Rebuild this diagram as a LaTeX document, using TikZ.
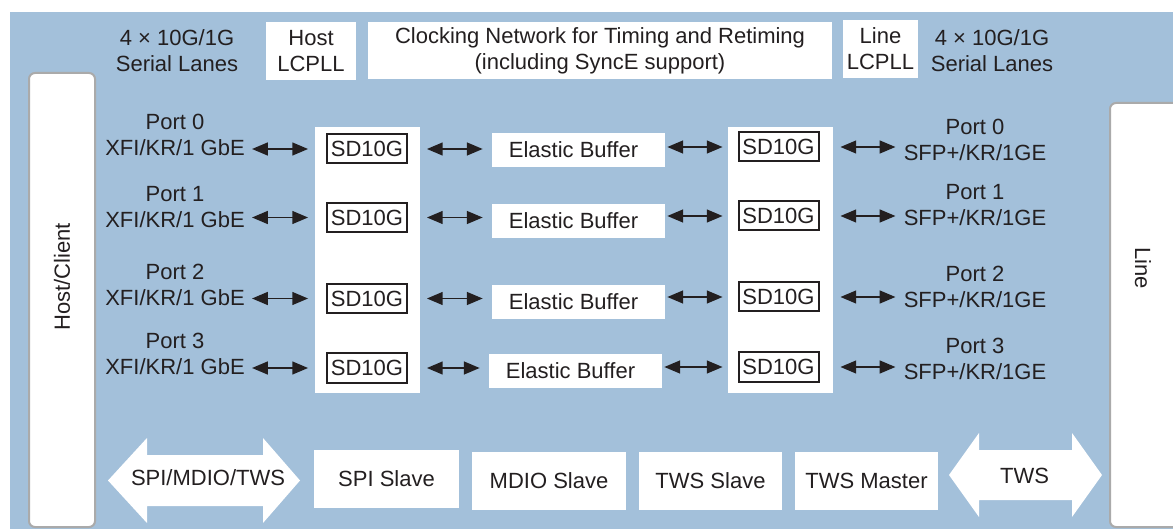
\documentclass[tikz,border=0pt]{standalone}
\usepackage{fontspec}
\setmainfont{Liberation Sans}
\usetikzlibrary{arrows, positioning, shapes}

\definecolor{bgblue}{RGB}{163,192,218}
\definecolor{ink}{RGB}{35,31,32}
\definecolor{rim}{RGB}{170,170,170}

\begin{document}
\begin{tikzpicture}[x=0.5pt, y=-0.5pt, >=triangle 45,
    txt/.style={font=\fontsize{11}{13}\selectfont, text=ink, align=center, inner sep=0pt},
    block/.style={txt, fill=white, minimum height=29pt},
    serdes/.style={txt, draw=ink, line width=1pt, fill=white, minimum width=40pt, minimum height=14.5pt},
    buffer/.style={block, minimum width=86.5pt, minimum height=17pt},
    column/.style={fill=white, minimum width=52.5pt, minimum height=133pt, inner sep=0pt},
    panel/.style={draw=rim, line width=1pt, fill=white, rounded corners=3pt},
    bigarrow/.style={fill=white},
    link/.style={<->, draw=ink, line width=0.8pt}]

   % Background
      \clip (0,0) rectangle (1173,529);
      \fill[bgblue] (10,12) rectangle (1173,529);

   % Side panels
      \draw[panel] (29,73) rectangle (95,527);
      \draw[panel] (1110,103) rectangle (1200,527);
      \node[txt, rotate=90]  (host) at (62,277)   {Host/Client};
      \node[txt, rotate=-90] (line) at (1143,268) {Line};

   % Top row
      \node[txt]                          (llanes) at (177,50.5) {4 × 10G/1G\\Serial Lanes};
      \node[block, minimum width=45pt]    (hpll)   at (311,51)   {Host\\LCPLL};
      \node[block, minimum width=232pt, minimum height=28.5pt]
                                          (clk)    at (600,50.5) {Clocking Network for Timing and Retiming\\(including SyncE support)};
      \node[block, minimum width=37.5pt]  (lpll)   at (880.5,49) {Line\\LCPLL};
      \node[txt]                          (rlanes) at (992,50.5) {4 × 10G/1G\\Serial Lanes};

   % Columns
      \node[column] (lcol) at (367.5,260) {};
      \node[column] (rcol) at (780,260)   {};

   % Nodes
      \node[txt]    (lp0) at (175,135)     {Port 0\\XFI/KR/1 GbE};
      \node[txt]    (lp1) at (175,207)     {Port 1\\XFI/KR/1 GbE};
      \node[txt]    (lp2) at (175,285)     {Port 2\\XFI/KR/1 GbE};
      \node[txt]    (lp3) at (175,354)     {Port 3\\XFI/KR/1 GbE};

      \node[serdes] (ls0) at (367,149)     {SD10G};
      \node[serdes] (ls1) at (367,217.5)   {SD10G};
      \node[serdes] (ls2) at (367,298.5)   {SD10G};
      \node[serdes] (ls3) at (367,368)     {SD10G};

      \node[buffer] (eb0) at (578.5,150)   {Elastic Buffer\hspace{5pt}};
      \node[buffer] (eb1) at (578.5,221)   {Elastic Buffer\hspace{5pt}};
      \node[buffer] (eb2) at (578.5,302)   {Elastic Buffer\hspace{5pt}};
      \node[buffer] (eb3) at (575.5,371)   {Elastic Buffer\hspace{5pt}};

      \node[serdes] (rs0) at (778.5,147)   {SD10G};
      \node[serdes] (rs1) at (778.5,216)   {SD10G};
      \node[serdes] (rs2) at (778.5,297)   {SD10G};
      \node[serdes] (rs3) at (778.5,367)   {SD10G};

      \node[txt]    (rp0) at (975,140)     {Port 0\\SFP+/KR/1GE};
      \node[txt]    (rp1) at (975,205.5)   {Port 1\\SFP+/KR/1GE};
      \node[txt]    (rp2) at (975,287)     {Port 2\\SFP+/KR/1GE};
      \node[txt]    (rp3) at (975,358.5)   {Port 3\\SFP+/KR/1GE};

   % Paths
      \draw[link, shorten <=3.5pt, shorten >=9pt]  (lp0.east |- ls0.west) -- (ls0.west);
      \draw[link, shorten <=3.5pt, shorten >=9pt]  (lp1.east |- ls1.west) -- (ls1.west);
      \draw[link, shorten <=3.5pt, shorten >=9pt]  (lp2.east |- ls2.west) -- (ls2.west);
      \draw[link, shorten <=3.5pt, shorten >=9pt]  (lp3.east |- ls3.west) -- (ls3.west);

      \draw[link, shorten <=9.5pt, shorten >=4.5pt] (ls0.east) -- (eb0.west |- ls0.east);
      \draw[link, shorten <=9.5pt, shorten >=4.5pt] (ls1.east) -- (eb1.west |- ls1.east);
      \draw[link, shorten <=9.5pt, shorten >=4.5pt] (ls2.east) -- (eb2.west |- ls2.east);
      \draw[link, shorten <=9.5pt, shorten >=4.5pt] (ls3.east) -- (eb3.west |- ls3.east);

      \draw[link, shorten <=1pt, shorten >=7.5pt]  (eb0.east |- rs0.west) -- (rs0.west);
      \draw[link, shorten <=1pt, shorten >=7.5pt]  (eb1.east |- rs1.west) -- (rs1.west);
      \draw[link, shorten <=1pt, shorten >=7.5pt]  (eb2.east |- rs2.west) -- (rs2.west);
      \draw[link, shorten <=1pt, shorten >=7.5pt]  (eb3.east |- rs3.west) -- (rs3.west);

      \draw[link, shorten <=10.5pt, shorten >=4pt] (rs0.east) -- (rp0.west |- rs0.east);
      \draw[link, shorten <=10.5pt, shorten >=4pt] (rs1.east) -- (rp1.west |- rs1.east);
      \draw[link, shorten <=10.5pt, shorten >=4pt] (rs2.east) -- (rp2.west |- rs2.east);
      \draw[link, shorten <=10.5pt, shorten >=4pt] (rs3.east) -- (rp3.west |- rs3.east);

   % Bottom row
      \fill[bigarrow] (108,480.5) -- (147,438) -- (147,455) -- (263,455) -- (263,438) -- (300,480.5)
                      -- (263,523) -- (263,506) -- (147,506) -- (147,523) -- cycle;
      \fill[bigarrow] (949,475) -- (979,433) -- (979,450) -- (1072,450) -- (1072,433) -- (1102,475)
                      -- (1072,517) -- (1072,500) -- (979,500) -- (979,517) -- cycle;
      \node[txt]                        (hbus) at (208,478)   {SPI/MDIO/TWS};
      \node[txt]                        (lbus) at (1024.5,476) {TWS};
      \node[block, minimum width=72.5pt] (spi)  at (386.5,479) {SPI Slave};
      \node[block, minimum width=77pt]   (mdio) at (549,481)   {MDIO Slave};
      \node[block, minimum width=71.5pt] (twss) at (710.5,481) {TWS Slave};
      \node[block, minimum width=71.5pt] (twsm) at (866.5,481) {TWS Master};
   \end{tikzpicture}
\end{document}
